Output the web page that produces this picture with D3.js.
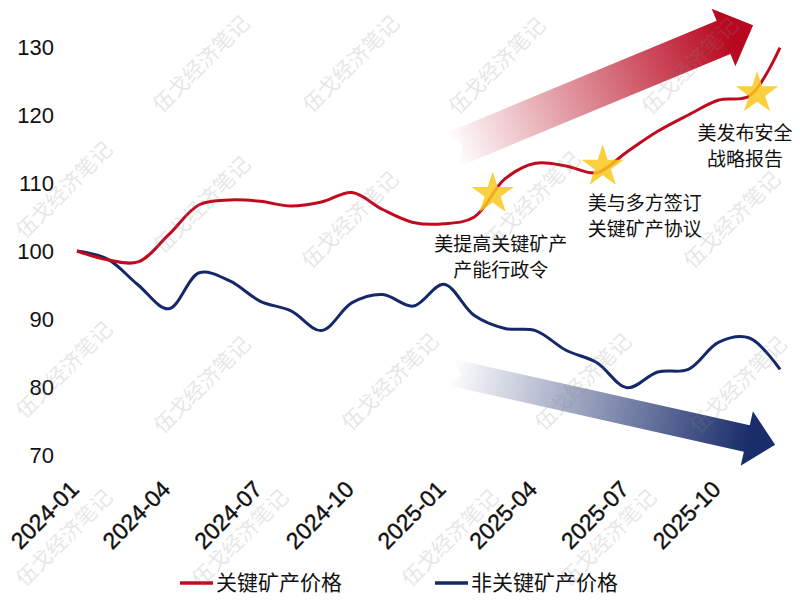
<!DOCTYPE html>
<html>
<head>
<meta charset="utf-8">
<script src="https://cdn.jsdelivr.net/npm/d3@7"></script>
<style>
  body { margin: 0; background: #fff; }
  svg { display: block; }
  .cn { font-family: "Noto Sans CJK SC", "Noto Sans", sans-serif; }
  .num { font-family: "Liberation Sans", Arial, sans-serif; }
</style>
</head>
<body>
<svg id="chart" width="800" height="604"></svg>
<script>
// monthly index, 2024-01 = 100
const months = ["2024-01","2024-02","2024-03","2024-04","2024-05","2024-06",
  "2024-07","2024-08","2024-09","2024-10","2024-11","2024-12",
  "2025-01","2025-02","2025-03","2025-04","2025-05","2025-06",
  "2025-07","2025-08","2025-09","2025-10","2025-11","2025-12"];
const critical = [100, 98.7, 98.4, 102.4, 106.8, 107.5, 107.3, 106.6, 107.2, 108.6, 106.1, 104.2,
  104.0, 105.0, 110.6, 112.9, 112.5, 111.5, 114.6, 117.6, 120.0, 122.2, 122.8, 129.9];
const nonCritical = [100, 98.8, 95.0, 91.5, 96.8, 95.6, 92.6, 91.2, 88.3, 92.4, 93.6, 91.9,
  95.1, 90.5, 88.6, 88.3, 85.4, 83.6, 79.9, 82.2, 82.6, 86.6, 87.2, 82.6];
const yTicks = [70, 80, 90, 100, 110, 120, 130];
const xTickIdx = [0, 3, 6, 9, 12, 15, 18, 21];
const seriesNames = ["关键矿产价格", "非关键矿产价格"];

// events on the red line: [month index, value]
const events = [[13.6, 108.4], [17.2, 112.4], [22.25, 123.2]];
const eventText = [["美提高关键矿产", "产能行政令"], ["美与多方签订", "关键矿产协议"], ["美发布安全", "战略报告"]];
const eventLabelOffset = [[8, 50], [42, 37], [-12, 40]];

// trend arrows: [tail idx, tail value, tip idx, tip value]
const trendUp = [12.27, 114.85, 22.12, 133.2];
const trendDown = [12.2, 82.2, 22.84, 71.5];

const svg = d3.select("#chart");
const red = "#C00A1E", navy = "#14286A";

const x = d3.scaleLinear().domain([0, months.length - 1]).range([77, 780]);
const y = d3.scaleLinear().domain([70, 130]).range([455, 47]);

const defs = svg.append("defs");
function grad(id, c) {
  const g = defs.append("linearGradient").attr("id", id)
    .attr("x1", 0).attr("x2", 1).attr("y1", 0).attr("y2", 0);
  g.append("stop").attr("offset", 0).attr("stop-color", c).attr("stop-opacity", 0);
  g.append("stop").attr("offset", 0.92).attr("stop-color", c).attr("stop-opacity", 1);
}
grad("gUp", "#B8081F");
grad("gDown", "#1A2D6B");

function arrow(t, w, hl, hw, fill) {
  const x0 = x(t[0]), y0 = y(t[1]), x1 = x(t[2]), y1 = y(t[3]);
  const L = Math.hypot(x1 - x0, y1 - y0);
  const ang = Math.atan2(y1 - y0, x1 - x0) * 180 / Math.PI;
  const n = 12;
  const pts = [[0, -w], [L - hl, -w], [L - hl, -hw], [L, 0], [L - hl, hw], [L - hl, w], [0, w], [n, 0]];
  svg.append("path")
    .attr("transform", `translate(${x0},${y0}) rotate(${ang})`)
    .attr("d", d3.line()(pts) + "Z")
    .attr("fill", fill);
}
arrow(trendUp, 18, 32, 31, "url(#gUp)");
arrow(trendDown, 13.5, 29, 28, "url(#gDown)");

// axes
const yAxis = svg.append("g").attr("transform", "translate(58,0)")
  .call(d3.axisLeft(y).tickValues(yTicks).tickSize(0).tickPadding(4));
yAxis.select(".domain").remove();
yAxis.selectAll("text").attr("class", "num").attr("font-size", 22).attr("fill", "#111");

const xAxis = svg.append("g").attr("transform", "translate(0,476)")
  .call(d3.axisBottom(x).tickValues(xTickIdx).tickFormat(i => months[i]).tickSize(0).tickPadding(0));
xAxis.select(".domain").remove();
xAxis.selectAll("text").attr("class", "num").attr("font-size", 23).attr("fill", "#111")
  .attr("stroke", "#111").attr("stroke-width", 0.4)
  .attr("text-anchor", "end").attr("dy", "0.35em")
  .attr("transform", "translate(-3,9) rotate(-45)");

// lines
const line = d3.line().x((d, i) => x(i)).y(d => y(d)).curve(d3.curveCatmullRom.alpha(0.5));
svg.append("path").datum(nonCritical).attr("d", line)
  .attr("fill", "none").attr("stroke", navy).attr("stroke-width", 3);
svg.append("path").datum(critical).attr("d", line)
  .attr("fill", "none").attr("stroke", red).attr("stroke-width", 3);

// stars and notes
const star = d3.symbol().type(d3.symbolStar).size(560);
svg.selectAll(".star").data(events).join("path")
  .attr("class", "star")
  .attr("transform", d => `translate(${x(d[0])},${y(d[1])})`)
  .attr("d", star)
  .attr("fill", "#FAC81E").attr("opacity", 0.85);

events.forEach((d, k) => {
  const t = svg.append("text").attr("class", "cn")
    .attr("font-size", 19).attr("fill", "#111").attr("text-anchor", "middle");
  eventText[k].forEach((s, j) => {
    t.append("tspan")
      .attr("x", x(d[0]) + eventLabelOffset[k][0])
      .attr("y", y(d[1]) + eventLabelOffset[k][1] + j * 26)
      .attr("dy", "0.35em")
      .text(s);
  });
});

// legend
const lg = svg.append("g");
[[180, red], [435, navy]].forEach((p, i) => {
  lg.append("line").attr("x1", p[0]).attr("x2", p[0] + 33).attr("y1", 583).attr("y2", 583)
    .attr("stroke", p[1]).attr("stroke-width", 3.5);
  lg.append("text").attr("class", "cn").attr("x", p[0] + 36).attr("y", 583).attr("dy", "0.35em")
    .attr("font-size", 21).attr("fill", "#111").text(seriesNames[i]);
});

// watermark
const wm = [[201,64],[351,64],[497,66],[690,66],
  [64,190],[202,205],[350,220],[532,200],[732,220],
  [64,370],[202,385],[390,382],[583,382],[738,385],
  [64,538],[240,538],[450,538],[608,538]];
svg.append("g").selectAll("text").data(wm).join("text")
  .attr("class", "cn")
  .attr("transform", d => `translate(${d[0]},${d[1]}) rotate(-45)`)
  .attr("text-anchor", "middle").attr("dy", "0.35em")
  .attr("font-size", 21).attr("fill", "#888").attr("opacity", 0.2)
  .text("伍戈经济笔记");
</script>
</body>
</html>
